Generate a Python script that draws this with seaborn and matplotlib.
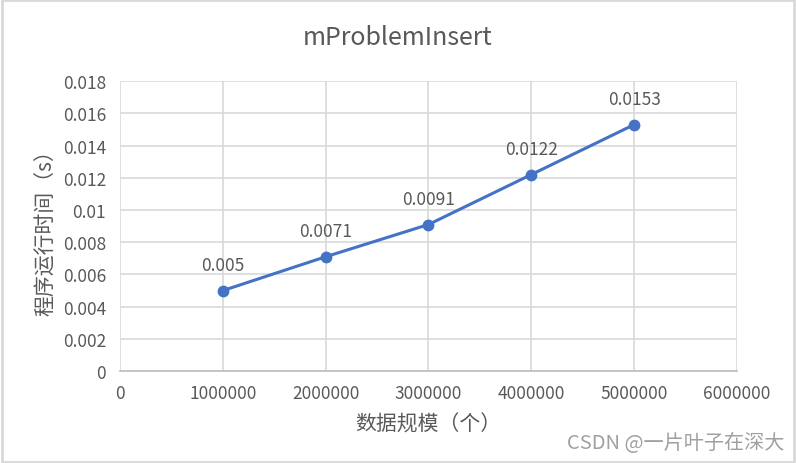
import matplotlib
matplotlib.use("Agg")
import matplotlib.pyplot as plt
import matplotlib.ticker as mticker
from matplotlib.patches import Rectangle
import pandas as pd
import seaborn as sns

sizes = [1000000, 2000000, 3000000, 4000000, 5000000]
times = [0.005, 0.0071, 0.0091, 0.0122, 0.0153]
labels = ["0.005", "0.0071", "0.0091", "0.0122", "0.0153"]

sns.set_theme(style="white")
plt.rcParams["font.family"] = ["Noto Sans CJK SC", "DejaVu Sans"]

df = pd.DataFrame({"size": sizes, "time": times})

fig = plt.figure(figsize=(7.96, 4.64), dpi=100)
ax = fig.add_axes([0.1508, 0.198, 0.775, 0.625])

sns.lineplot(data=df, x="size", y="time", ax=ax, color="#4472C4", linewidth=2.2,
             marker="o", markersize=8.5, markeredgewidth=0, zorder=3)

for x, y, t in zip(sizes, times, labels):
    ax.annotate(t, (x, y), xytext=(0, 12), textcoords="offset points",
                ha="center", va="bottom", fontsize=12.5, color="#595959")

ax.set_xlim(0, 6000000)
ax.set_ylim(0, 0.018)
ax.xaxis.set_major_locator(mticker.MultipleLocator(1000000))
ax.yaxis.set_major_locator(mticker.MultipleLocator(0.002))
ax.xaxis.set_major_formatter(mticker.FuncFormatter(lambda v, p: f"{int(round(v))}"))
ax.yaxis.set_major_formatter(mticker.FuncFormatter(lambda v, p: f"{round(v, 4):g}"))
ax.grid(True, color="#D9D9D9", linewidth=1.2)
for s in ax.spines.values():
    s.set_visible(False)
ax.spines["bottom"].set_visible(True)
ax.spines["bottom"].set_color("#BFBFBF")
ax.tick_params(axis="x", length=0, labelsize=12.5, labelcolor="#595959", pad=9)
ax.tick_params(axis="y", length=0, labelsize=12.5, labelcolor="#595959", pad=10)

ax.set_xlabel("数据规模（个）", fontsize=15, color="#595959", labelpad=8)
ax.set_ylabel("程序运行时间（s）", fontsize=15, color="#595959", labelpad=4)
fig.text(0.5, 0.918, "mProblemInsert", ha="center", va="center", fontsize=18, color="#595959")

fig.text(0.985, 0.045, "CSDN @一片叶子在深大", ha="right", va="center",
         fontsize=14.5, color="#A0A0A0")
fig.patches.append(Rectangle((0.002, 0.003), 0.996, 0.994, transform=fig.transFigure,
                             fill=False, edgecolor="#D9D9D9", linewidth=2))

fig.savefig("out.png", dpi=100)
